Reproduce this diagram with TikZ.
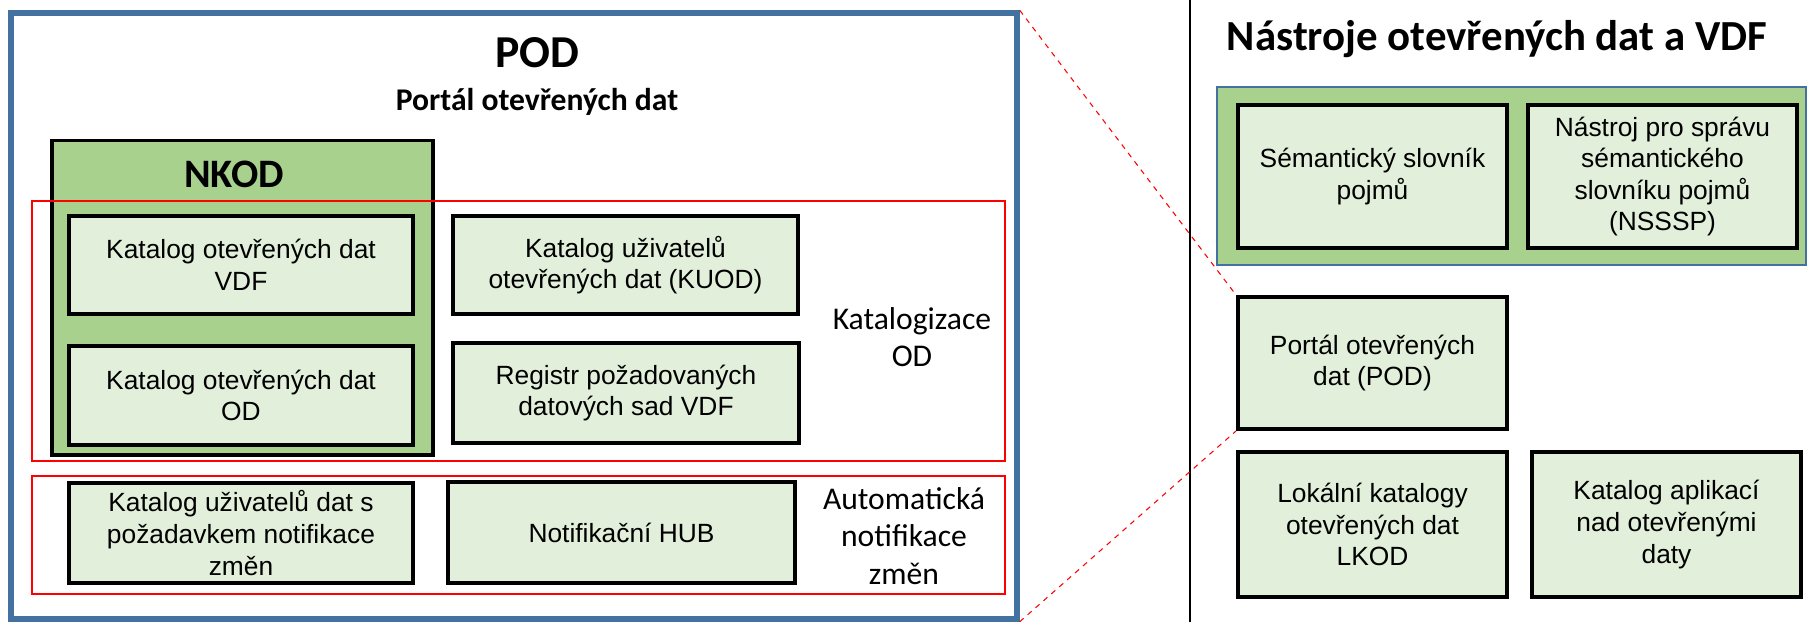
\documentclass[tikz,border=0pt]{standalone}
\usepackage{fontspec}
\setmainfont{Carlito}
\newfontfamily\arialfont{Liberation Sans}
\usetikzlibrary{positioning}
\definecolor{podblue}{RGB}{68, 114, 160}
\definecolor{nkodgreen}{RGB}{169, 209, 142}
\definecolor{itemgreen}{RGB}{226, 239, 218}
\definecolor{framered}{RGB}{255, 0, 0}

\begin{document}
\begin{tikzpicture}[
  x=0.02cm, y=-0.02cm,
  itembox/.style={draw=black, fill=itemgreen, line width=2.2pt, align=center, inner sep=2pt, font=\arialfont\fontsize{15}{18}\selectfont},
  nkodbox/.style={draw=black, fill=nkodgreen, line width=1.9pt},
  toolpanel/.style={draw=podblue, fill=nkodgreen, line width=1pt},
  podframe/.style={draw=podblue, line width=3.2pt},
  redframe/.style={draw=framered, line width=1.4pt},
  grouplabel/.style={align=center, font=\fontsize{18}{21}\selectfont},
  zoomline/.style={draw=framered, dashed, line width=0.6pt}
]
  \useasboundingbox (0,0) rectangle (1820,622);

  % POD frame and titles
  \node[podframe, minimum width=20.12cm, minimum height=12.12cm] (pod) at (514,316) {};
  \node[anchor=base, font=\bfseries\fontsize{26}{30}\selectfont] (podtitle) at (537,67) {POD};
  \node[anchor=base, font=\bfseries\fontsize{18}{21}\selectfont] (podsub) at (537,110) {Portál otevřených dat};

  % NKOD
  \node[nkodbox, minimum width=7.62cm, minimum height=6.29cm] (nkod) at (242.5,297.75) {};
  \node[anchor=base, font=\bfseries\fontsize{23}{27}\selectfont] (nkodtitle) at (234,187) {NKOD};

  % Groups
  \node[redframe, minimum width=19.46cm, minimum height=5.2cm] (katalogizace) at (518.5,331) {};
  \node[redframe, minimum width=19.46cm, minimum height=2.36cm] (automatika) at (518.5,535) {};
  \node[grouplabel] (katlabel) at (912,337) {Katalogizace\\OD};
  \node[grouplabel, font=\fontsize{18}{21.5}\selectfont] (autolabel) at (904,536) {Automatická\\notifikace\\změn};

  % Catalogues
  \node[itembox, minimum width=6.88cm, minimum height=1.96cm] (kodvdf) at (241,265) {Katalog otevřených dat\\VDF};
  \node[itembox, minimum width=6.88cm, minimum height=1.98cm] (kodod) at (241,395.5) {Katalog otevřených dat\\OD};
  \node[itembox, minimum width=6.9cm, minimum height=1.96cm] (kuod) at (625.5,265) {Katalog uživatelů\\otevřených dat (KUOD)};
  \node[itembox, minimum width=6.92cm, minimum height=2cm] (registr) at (626,393) {Registr požadovaných\\datových sad VDF};

  % Notifications
  \node[itembox, minimum width=6.88cm, minimum height=2cm] (notifkat) at (241,533) {Katalog uživatelů dat s\\požadavkem notifikace\\změn};
  \node[itembox, minimum width=6.94cm, minimum height=2.02cm] (hub) at (621.5,532.5) {Notifikační HUB};

  % Divider
  \coordinate (divtop) at (1190,0);
  \coordinate (divbottom) at (1190,622);
  \draw[line width=1.1pt] (divtop) -- (divbottom);

  % Tools
  \node[anchor=base, font=\bfseries\fontsize{24.4}{29}\selectfont] (toolstitle) at (1497,51) {Nástroje otevřených dat a VDF};
  \node[toolpanel, minimum width=11.78cm, minimum height=3.56cm] (semantika) at (1511.5,176) {};
  \node[itembox, minimum width=5.38cm, minimum height=2.86cm] (slovnik) at (1372.5,176.5) {Sémantický slovník\\pojmů};
  \node[itembox, minimum width=5.38cm, minimum height=2.86cm] (nsssp) at (1662.5,176.5) {Nástroj pro správu\\sémantického\\slovníku pojmů\\(NSSSP)};
  \node[itembox, minimum width=5.38cm, minimum height=2.64cm] (portal) at (1372.5,363) {Portál otevřených\\dat (POD)};
  \node[itembox, minimum width=5.38cm, minimum height=2.9cm] (lkod) at (1372.5,524.5) {Lokální katalogy\\otevřených dat\\LKOD};
  \node[itembox, minimum width=5.38cm, minimum height=2.9cm] (aplikace) at (1666.5,524.5) {Katalog aplikací\\nad otevřenými\\daty};

  % Zoom lines
  \draw[zoomline] (pod.north east) -- (portal.north west);
  \draw[zoomline] (pod.south east) -- (portal.south west);
\end{tikzpicture}
\end{document}
